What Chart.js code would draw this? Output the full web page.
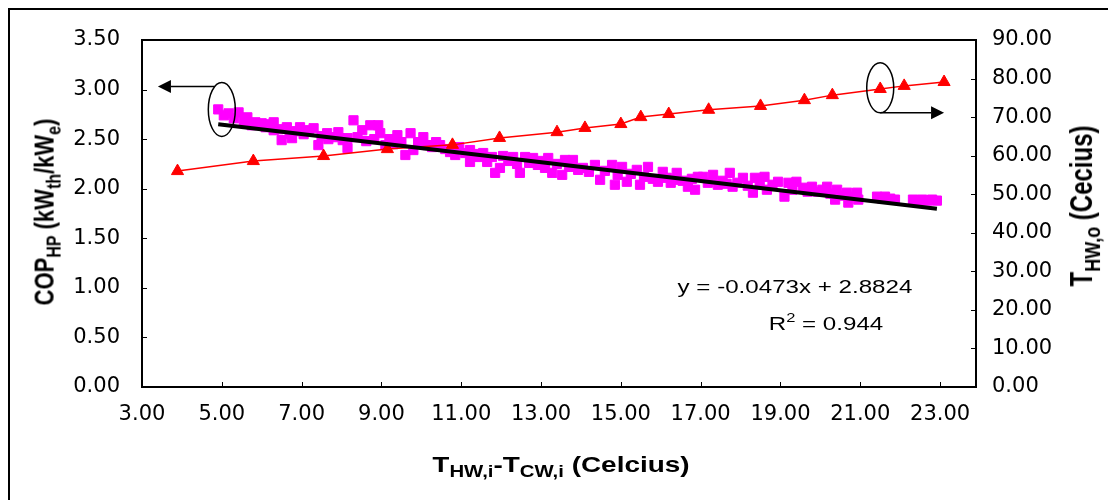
<!DOCTYPE html>
<html>
<head>
<meta charset="utf-8">
<script src="https://cdn.jsdelivr.net/npm/chart.js@4/dist/chart.umd.min.js"></script>
<style>
  html, body { margin: 0; padding: 0; background: #fff; }
  #wrap { position: relative; width: 1108px; height: 500px; overflow: hidden; font-family: "Liberation Sans", Arial, sans-serif; color: #000; }
  #frame { position: absolute; left: 8px; top: 8px; width: 1200px; height: 600px; border-left: 2px solid #000; border-top: 2px solid #000; }
  #box { position: absolute; left: 0; top: 0; width: 1108px; height: 500px; }
  .lbl { position: absolute; white-space: nowrap; transform: translate(-50%, -50%) scaleX(1.27); }
  .rot { transform: translate(-50%, -50%) rotate(-90deg) scaleY(1.27); }
  .title { font-weight: bold; font-size: 22px; }
  .title sub { font-size: 16px; vertical-align: -5px; }
  .big { font-size: 24px; }
  .big sub { font-size: 18px; vertical-align: -6px; }
  .eq { font-size: 19px; }
  .eq sup { font-size: 13px; vertical-align: 8px; }
</style>
</head>
<body>
<div id="wrap">
  <div id="frame"></div>
  <div id="box"><canvas id="chart"></canvas></div>
  <div class="lbl title" style="left:561px; top:466px;">T<sub>HW,i</sub>-T<sub>CW,i</sub> (Celcius)</div>
  <div class="lbl title rot" style="left:47px; top:212px;">COP<sub>HP</sub> (kW<sub>th</sub>/kW<sub>e</sub>)</div>
  <div class="lbl title rot big" style="left:1085px; top:206px;">T<sub>HW,o</sub> (Cecius)</div>
  <div class="lbl eq" id="eq1" style="left:795px; top:287px;"></div>
  <div class="lbl eq" id="eq2" style="left:826px; top:322px;"></div>
</div>
<script>
// COP of the heat pump vs. temperature difference (left axis)
const copX = [4.91, 5.05, 5.17, 5.30, 5.42, 5.55, 5.64, 5.75, 5.84, 6.00, 6.10, 6.20, 6.30, 6.30, 6.42, 6.50,
  6.63, 6.70, 6.76, 6.86, 6.96, 7.05, 7.18, 7.30, 7.42, 7.50, 7.64, 7.67, 7.80, 7.92, 8.03, 8.15, 8.15, 8.30,
  8.40, 8.52, 8.62, 8.72, 8.82, 8.92, 8.97, 9.10, 9.20, 9.30, 9.40, 9.50, 9.60, 9.73, 9.80, 9.92, 10.05, 10.15,
  10.27, 10.37, 10.47, 10.60, 10.72, 10.85, 10.95, 11.10, 11.22, 11.22, 11.32, 11.42, 11.55, 11.65, 11.77, 11.85,
  11.97, 12.05, 12.18, 12.30, 12.40, 12.47, 12.60, 12.70, 12.80, 12.92, 13.00, 13.10, 13.18, 13.28, 13.40, 13.53,
  13.60, 13.70, 13.80, 13.93, 14.05, 14.20, 14.35, 14.48, 14.60, 14.78, 14.85, 14.92, 15.03, 15.15, 15.25, 15.40,
  15.48, 15.58, 15.68, 15.80, 15.93, 16.05, 16.15, 16.25, 16.35, 16.40, 16.55, 16.68, 16.78, 16.86, 16.93, 17.06,
  17.18, 17.31, 17.43, 17.55, 17.65, 17.73, 17.80, 17.92, 18.06, 18.18, 18.31, 18.36, 18.48, 18.60, 18.66, 18.80,
  18.94, 19.10, 19.20, 19.30, 19.40, 19.57, 19.68, 19.79, 19.94, 20.05, 20.17, 20.25, 20.37, 20.42, 20.55, 20.67,
  20.70, 20.82, 20.92, 20.95, 21.42, 21.55, 21.62, 21.75, 21.87, 22.32, 22.45, 22.55, 22.68, 22.80, 22.92];
const copY = [2.80, 2.74, 2.76, 2.71, 2.77, 2.68, 2.72, 2.64, 2.67, 2.66, 2.62, 2.65, 2.67, 2.59, 2.60, 2.49,
  2.62, 2.55, 2.51, 2.58, 2.62, 2.55, 2.59, 2.61, 2.44, 2.53, 2.56, 2.50, 2.52, 2.57, 2.49, 2.51, 2.41, 2.69,
  2.52, 2.59, 2.48, 2.64, 2.50, 2.64, 2.56, 2.44, 2.50, 2.45, 2.54, 2.47, 2.34, 2.56, 2.39, 2.47, 2.52, 2.44,
  2.42, 2.47, 2.44, 2.40, 2.37, 2.34, 2.42, 2.36, 2.39, 2.27, 2.35, 2.32, 2.36, 2.27, 2.32, 2.16,
  2.21, 2.33, 2.28, 2.32, 2.25, 2.16, 2.32, 2.26, 2.31, 2.24, 2.28, 2.21, 2.31, 2.16, 2.25, 2.14,
  2.29, 2.22, 2.29, 2.19, 2.21, 2.17, 2.24, 2.09, 2.18, 2.24, 2.04, 2.14, 2.22, 2.07, 2.15, 2.19,
  2.04, 2.12, 2.22, 2.10, 2.07, 2.17, 2.11, 2.06, 2.09, 2.16, 2.08, 2.02, 2.10, 1.99, 2.12, 2.12,
  2.06, 2.14, 2.04, 2.08, 2.05, 2.16, 2.02, 2.06, 2.11, 2.03, 1.96, 2.11, 2.04, 2.12, 1.99, 2.04,
  2.07, 1.92, 2.06, 1.99, 2.07, 2.01, 1.97, 2.02, 1.97, 1.99, 2.02, 1.95, 1.89, 1.99, 1.93, 1.96,
  1.86, 1.92, 1.96, 1.89, 1.92, 1.90, 1.92, 1.90, 1.89, 1.89, 1.88, 1.89, 1.88, 1.89, 1.88];

// hot water outlet temperature (right axis)
const tempX = [3.89, 5.79, 7.55, 9.15, 10.78, 11.96, 13.40, 14.10, 15.00, 15.50, 16.20, 17.20, 18.50, 19.60, 20.30, 21.50, 22.10, 23.10];
const tempY = [56.0, 58.6, 59.9, 61.7, 62.8, 64.6, 66.1, 67.2, 68.2, 70.0, 70.8, 71.9, 72.9, 74.4, 75.7, 77.3, 78.1, 79.1];

// linear trendline of the COP points
const slope = -0.0473;
const intercept = 2.8824;
const rSquared = 0.944;

const xTicks = [3, 5, 7, 9, 11, 13, 15, 17, 19, 21, 23];
const copTicks = [0, 0.5, 1, 1.5, 2, 2.5, 3, 3.5];
const tempTicks = [0, 10, 20, 30, 40, 50, 60, 70, 80, 90];

document.getElementById('eq1').textContent = 'y = ' + slope.toFixed(4) + 'x + ' + intercept.toFixed(4);
document.getElementById('eq2').innerHTML = 'R<sup>2</sup> = ' + rSquared.toFixed(3);

const copPoints = copX.map((x, i) => ({ x: x, y: copY[i] }));
const tempPoints = tempX.map((x, i) => ({ x: x, y: tempY[i] }));
const xLo = Math.min(...copX), xHi = Math.max(...copX);
const trendPoints = [xLo, xHi].map(x => ({ x: x, y: intercept + slope * x }));

const tickFont = { family: '"DejaVu Sans", sans-serif', size: 21 };

function arrow(ctx, x1, y1, x2, y2) {
    const ang = Math.atan2(y2 - y1, x2 - x1);
    const len = 13, half = 6.5;
    ctx.beginPath();
    ctx.moveTo(x1, y1);
    ctx.lineTo(x2 - Math.cos(ang) * len, y2 - Math.sin(ang) * len);
    ctx.stroke();
    ctx.beginPath();
    ctx.moveTo(x2, y2);
    ctx.lineTo(x2 - Math.cos(ang) * len - Math.sin(ang) * half, y2 - Math.sin(ang) * len + Math.cos(ang) * half);
    ctx.lineTo(x2 - Math.cos(ang) * len + Math.sin(ang) * half, y2 - Math.sin(ang) * len - Math.cos(ang) * half);
    ctx.closePath();
    ctx.fill();
}

// frame, inward tick marks and the two "which axis" markers
const decor = {
    id: 'decor',
    afterDraw(chart) {
        const { ctx, chartArea: a, scales } = chart;
        ctx.save();
        ctx.strokeStyle = '#000';
        ctx.fillStyle = '#000';
        ctx.lineWidth = 2;
        ctx.strokeRect(a.left, a.top, a.right - a.left, a.bottom - a.top);

        ctx.lineWidth = 1;
        ctx.beginPath();
        scales.x.ticks.forEach(t => {
            const px = Math.round(scales.x.getPixelForValue(t.value)) + 0.5;
            if (px > a.left + 2 && px < a.right - 2) { ctx.moveTo(px, a.bottom); ctx.lineTo(px, a.bottom - 5); }
        });
        scales.y.ticks.forEach(t => {
            const py = Math.round(scales.y.getPixelForValue(t.value)) + 0.5;
            if (py > a.top + 2 && py < a.bottom - 2) { ctx.moveTo(a.left, py); ctx.lineTo(a.left + 5, py); }
        });
        scales.y1.ticks.forEach(t => {
            const py = Math.round(scales.y1.getPixelForValue(t.value)) + 0.5;
            if (py > a.top + 2 && py < a.bottom - 2) { ctx.moveTo(a.right, py); ctx.lineTo(a.right - 5, py); }
        });
        ctx.stroke();

        ctx.lineWidth = 1.5;
        // COP series -> left axis
        const c1x = scales.x.getPixelForValue(5.0), c1y = scales.y.getPixelForValue(2.80);
        ctx.beginPath();
        ctx.ellipse(c1x, c1y, 13.5, 27, 0, 0, Math.PI * 2);
        ctx.stroke();
        arrow(ctx, c1x - 7, c1y - 23, scales.x.getPixelForValue(3.4), c1y - 23);
        // temperature series -> right axis
        const c2x = scales.x.getPixelForValue(21.5), c2y = scales.y1.getPixelForValue(77.6);
        ctx.beginPath();
        ctx.ellipse(c2x, c2y, 13.5, 25, 0, 0, Math.PI * 2);
        ctx.stroke();
        arrow(ctx, c2x, c2y + 25, scales.x.getPixelForValue(23.1), c2y + 25);
        ctx.restore();
    }
};

new Chart(document.getElementById('chart'), {
    type: 'scatter',
    data: {
        datasets: [
            {
                label: 'Trend',
                data: trendPoints,
                showLine: true,
                borderColor: '#000',
                borderWidth: 4,
                pointRadius: 0,
                yAxisID: 'y',
                order: 0
            },
            {
                label: 'T_HW,o',
                data: tempPoints,
                showLine: true,
                borderColor: '#ff0000',
                backgroundColor: '#ff0000',
                borderWidth: 1.5,
                pointStyle: 'triangle',
                pointRadius: 7,
                pointBorderWidth: 1,
                yAxisID: 'y1',
                order: 1
            },
            {
                label: 'COP_HP',
                data: copPoints,
                backgroundColor: '#ff00ff',
                borderColor: '#ff00ff',
                pointStyle: 'rect',
                pointRadius: 6.5,
                pointBorderWidth: 1,
                yAxisID: 'y',
                order: 2
            }
        ]
    },
    options: {
        responsive: true,
        maintainAspectRatio: false,
        animation: false,
        layout: { padding: { top: 40, left: 0, right: 0, bottom: 0 } },
        plugins: { legend: { display: false }, tooltip: { enabled: false } },
        scales: {
            x: {
                type: 'linear',
                position: 'bottom',
                min: 3,
                max: 23.9,
                afterBuildTicks: s => { s.ticks = xTicks.map(v => ({ value: v })); },
                afterFit: s => { s.height = 113; },
                grid: { display: false, drawTicks: false },
                border: { display: false },
                ticks: { padding: 15, color: '#000', font: tickFont, maxRotation: 0, autoSkip: false, callback: v => Number(v).toFixed(2) }
            },
            y: {
                position: 'left',
                min: 0,
                max: 3.5,
                afterBuildTicks: s => { s.ticks = copTicks.map(v => ({ value: v })); },
                afterFit: s => { s.width = 142; },
                grid: { display: false, drawTicks: false },
                border: { display: false },
                ticks: { padding: 22, color: '#000', font: tickFont, callback: v => Number(v).toFixed(2) }
            },
            y1: {
                position: 'right',
                min: 0,
                max: 90,
                afterBuildTicks: s => { s.ticks = tempTicks.map(v => ({ value: v })); },
                afterFit: s => { s.width = 132; },
                grid: { display: false, drawTicks: false },
                border: { display: false },
                ticks: { padding: 16, color: '#000', font: tickFont, callback: v => Number(v).toFixed(2) }
            }
        }
    },
    plugins: [decor]
});
</script>
</body>
</html>
